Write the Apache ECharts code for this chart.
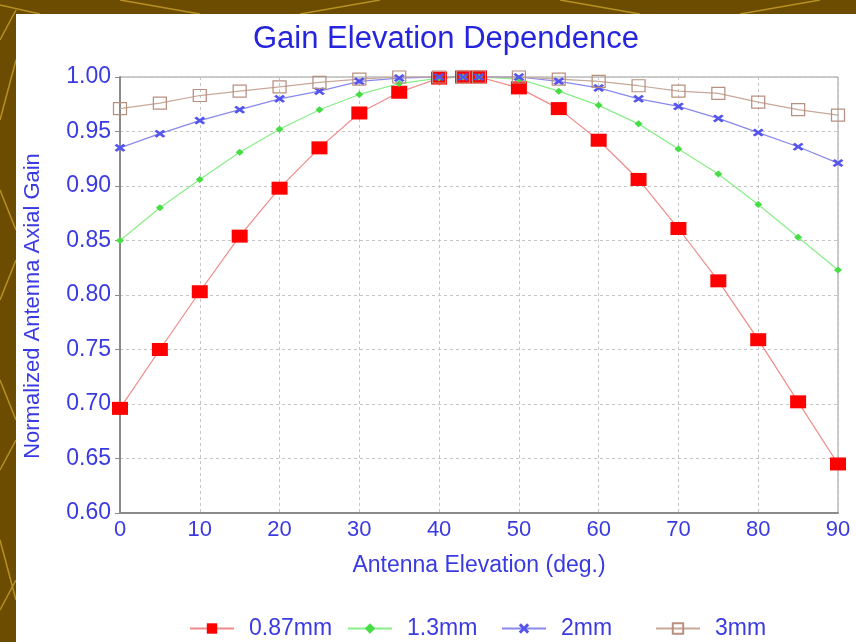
<!DOCTYPE html>
<html>
<head>
<meta charset="utf-8">
<script src="https://cdn.jsdelivr.net/npm/echarts@6/dist/echarts.min.js"></script>
<style>
html,body{margin:0;padding:0;background:#6b4c00;}
#chart{width:856px;height:642px;}
</style>
</head>
<body>
<div id="chart"></div>
<script>
// Data
var elevation = [0,5,10,15,20,25,30,35,40,43,45,50,55,60,65,70,75,80,85,90];
var seriesNames = ['0.87mm','1.3mm','2mm','3mm'];
var gain087 = [0.696,0.750,0.803,0.854,0.898,0.935,0.967,0.986,0.999,1.000,1.000,0.990,0.971,0.942,0.906,0.861,0.813,0.759,0.702,0.645];
var gain13  = [0.850,0.880,0.906,0.931,0.952,0.970,0.984,0.994,0.999,1.000,1.000,0.998,0.987,0.974,0.957,0.934,0.911,0.883,0.853,0.823];
var gain2   = [0.935,0.948,0.960,0.970,0.980,0.987,0.996,0.999,1.000,1.000,1.000,1.000,0.996,0.990,0.980,0.973,0.962,0.949,0.936,0.921];
var gain3   = [0.971,0.976,0.983,0.987,0.991,0.995,0.998,1.000,1.000,1.000,1.000,1.000,0.998,0.996,0.992,0.987,0.985,0.977,0.970,0.965];

function pairs(v){ return elevation.map(function(x,i){ return [x, v[i]]; }); }

var FONT = 'Liberation Sans, Arial, sans-serif';
var TXT = '#3a3ae2';

var chart = echarts.init(document.getElementById('chart'), null, {renderer:'canvas'});

var deco = [];
var decoLines = [[0,40,16,10],[0,120,16,60],[0,190,16,230],[0,300,16,260],[0,380,16,420],[0,470,16,440],[0,540,16,600],[0,610,16,580],[0,5,40,14],[120,0,200,14],[300,14,380,0],[560,0,640,14],[740,14,820,0]];
decoLines.forEach(function(l){
  deco.push({type:'line', shape:{x1:l[0],y1:l[1],x2:l[2],y2:l[3]}, style:{stroke:'#b89020', lineWidth:1.5}, silent:true, z:-1});
});
deco.push({type:'rect', shape:{x:16,y:14,width:840,height:628}, style:{fill:'#ffffff'}, silent:true, z:-1});

var legendLeft = [184, 342, 496, 650];
var legends = seriesNames.map(function(n, i){
  return {
    data: [n], left: legendLeft[i], top: 612,
    itemWidth: 44, itemHeight: 13,
    textStyle: {fontFamily: FONT, fontSize: 23, color: TXT, padding: [0,0,0,10]}
  };
});

var option = {
  backgroundColor: '#6b4c00',
  animation: false,
  graphic: deco,
  title: {
    text: 'Gain Elevation Dependence',
    left: 441, top: 19, textAlign: 'center',
    textStyle: {fontFamily: FONT, fontSize: 31, fontWeight: 'normal', color: '#2525dd'}
  },
  legend: legends,
  grid: {left: 120, right: 18, top: 77, bottom: 129, show: true, borderColor: '#9a9a9a', borderWidth: 1},
  xAxis: {
    type: 'value', min: 0, max: 90, interval: 10,
    name: 'Antenna Elevation (deg.)', nameLocation: 'middle', nameGap: 41,
    nameTextStyle: {fontFamily: FONT, fontSize: 23, color: TXT},
    axisLine: {show: true, lineStyle: {color: '#8a8a8a', width: 2}},
    axisTick: {show: false},
    axisLabel: {fontFamily: FONT, fontSize: 22, color: TXT, margin: 6},
    splitLine: {show: true, lineStyle: {color: '#c4c4c4', type: [3,3], width: 1}}
  },
  yAxis: {
    type: 'value', min: 0.6, max: 1.0, interval: 0.05,
    name: 'Normalized Antenna Axial Gain', nameLocation: 'middle', nameGap: 76,
    nameTextStyle: {fontFamily: FONT, fontSize: 22, color: TXT, padding: [0,22,0,0]},
    axisLine: {show: true, lineStyle: {color: '#8a8a8a', width: 2}},
    axisTick: {show: true, length: 5, lineStyle: {color: '#8a8a8a'}},
    axisLabel: {fontFamily: FONT, fontSize: 23, color: TXT, margin: 9, formatter: function(v){ return v.toFixed(2); }},
    splitLine: {show: true, lineStyle: {color: '#c4c4c4', type: [3,3], width: 1}}
  },
  series: [
    {name: seriesNames[0], type: 'line', data: pairs(gain087), clip: false,
     symbol: 'rect', symbolSize: [16,13],
     itemStyle: {color: '#ff0000'}, lineStyle: {color: '#f08a8a', width: 1.2}},
    {name: seriesNames[1], type: 'line', data: pairs(gain13), clip: false,
     symbol: 'diamond', symbolSize: [8,7],
     itemStyle: {color: '#44dd44'}, lineStyle: {color: '#88ee88', width: 1.2}},
    {name: seriesNames[2], type: 'line', data: pairs(gain2), clip: false,
     symbol: 'path://M0,2 L2,0 L5,3 L8,0 L10,2 L7,5 L10,8 L8,10 L5,7 L2,10 L0,8 L3,5 Z', symbolSize: [11,8],
     itemStyle: {color: '#5555ee'}, lineStyle: {color: '#8888ee', width: 1.2}},
    {name: seriesNames[3], type: 'line', data: pairs(gain3), clip: false,
     symbol: 'rect', symbolSize: [13,12],
     itemStyle: {color: 'rgba(255,255,255,0)', borderColor: '#b89080', borderWidth: 1.2}, lineStyle: {color: '#c8a898', width: 1.2}}
  ]
};
chart.setOption(option);
</script>
</body>
</html>
